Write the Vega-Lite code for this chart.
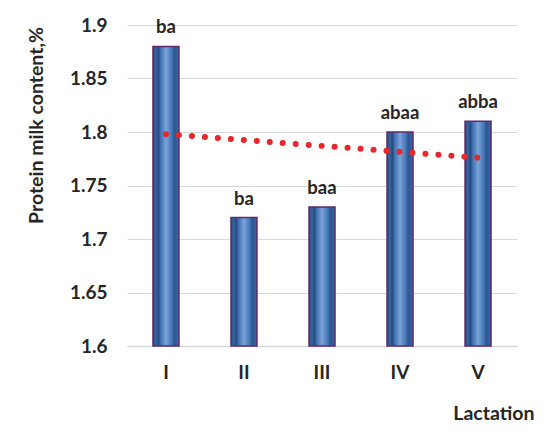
{
  "$schema": "https://vega.github.io/schema/vega-lite/v6.json",
  "width": 390,
  "height": 321,
  "autosize": {"type": "none"},
  "padding": {"left": 127, "top": 25, "right": 30, "bottom": 91},
  "background": "white",
  "config": {
    "view": {"stroke": null},
    "font": "Lato",
    "axis": {"labelFont": "Lato", "titleFont": "Lato"}
  },
  "data": {
    "values": [
      {"lactation": "I", "protein": 1.88, "label": "ba", "trend": 1.798},
      {"lactation": "II", "protein": 1.72, "label": "ba", "trend": 1.7925},
      {"lactation": "III", "protein": 1.73, "label": "baa", "trend": 1.787},
      {"lactation": "IV", "protein": 1.80, "label": "abaa", "trend": 1.7815},
      {"lactation": "V", "protein": 1.81, "label": "abba", "trend": 1.776}
    ]
  },
  "encoding": {
    "x": {
      "field": "lactation",
      "type": "nominal",
      "sort": ["I", "II", "III", "IV", "V"],
      "scale": {"paddingInner": 0.667, "paddingOuter": 0.333},
      "axis": {
        "title": "Lactation",
        "labelAngle": 0,
        "labelFontSize": 19,
        "labelFontWeight": "bold",
        "labelColor": "#262626",
        "labelPadding": 17,
        "ticks": false,
        "domainColor": "#d9d9d9",
        "domainWidth": 1.5,
        "titleFontSize": 19.5,
        "titleFontWeight": "bold",
        "titleColor": "#262626",
        "titleAlign": "right",
        "titleBaseline": "middle",
        "titleX": 407,
        "titleY": 67
      }
    }
  },
  "layer": [
    {
      "mark": {
        "type": "bar",
        "stroke": "#5e2a6c",
        "strokeWidth": 1.5,
        "fill": {
          "gradient": "linear",
          "x1": 0, "x2": 1, "y1": 0, "y2": 0,
          "stops": [
            {"offset": 0, "color": "#2b4c7a"},
            {"offset": 0.12, "color": "#3a67a3"},
            {"offset": 0.2, "color": "#23477a"},
            {"offset": 0.28, "color": "#3d6dad"},
            {"offset": 0.5, "color": "#7aa3d8"},
            {"offset": 0.72, "color": "#4777b8"},
            {"offset": 0.82, "color": "#2c5790"},
            {"offset": 1, "color": "#3a68a4"}
          ]
        }
      },
      "encoding": {
        "y": {
          "field": "protein",
          "type": "quantitative",
          "scale": {"domain": [1.6, 1.9], "zero": false},
          "axis": {
            "values": [1.6, 1.65, 1.7, 1.75, 1.8, 1.85, 1.9],
            "format": ".2~f",
            "title": "Protein milk content,%",
            "grid": true,
            "gridColor": "#d9d9d9",
            "gridWidth": 1.2,
            "domain": false,
            "ticks": false,
            "labelFontSize": 19,
            "labelFontWeight": "bold",
            "labelColor": "#262626",
            "labelPadding": 20,
            "titleFontSize": 19.5,
            "titleFontWeight": "bold",
            "titleColor": "#262626",
            "titleAlign": "center",
            "titleBaseline": "middle",
            "titleX": -91,
            "titleY": 100
          }
        },
        "y2": {"datum": 1.6}
      }
    },
    {
      "mark": {
        "type": "line",
        "color": "#e8262b",
        "strokeWidth": 6,
        "strokeCap": "round",
        "strokeDash": [0.01, 13]
      },
      "encoding": {
        "y": {"field": "trend", "type": "quantitative"}
      }
    },
    {
      "mark": {
        "type": "text",
        "baseline": "alphabetic",
        "dy": -13,
        "fontSize": 18.5,
        "fontWeight": "bold",
        "color": "#262626"
      },
      "encoding": {
        "y": {"field": "protein", "type": "quantitative"},
        "text": {"field": "label"}
      }
    }
  ]
}
